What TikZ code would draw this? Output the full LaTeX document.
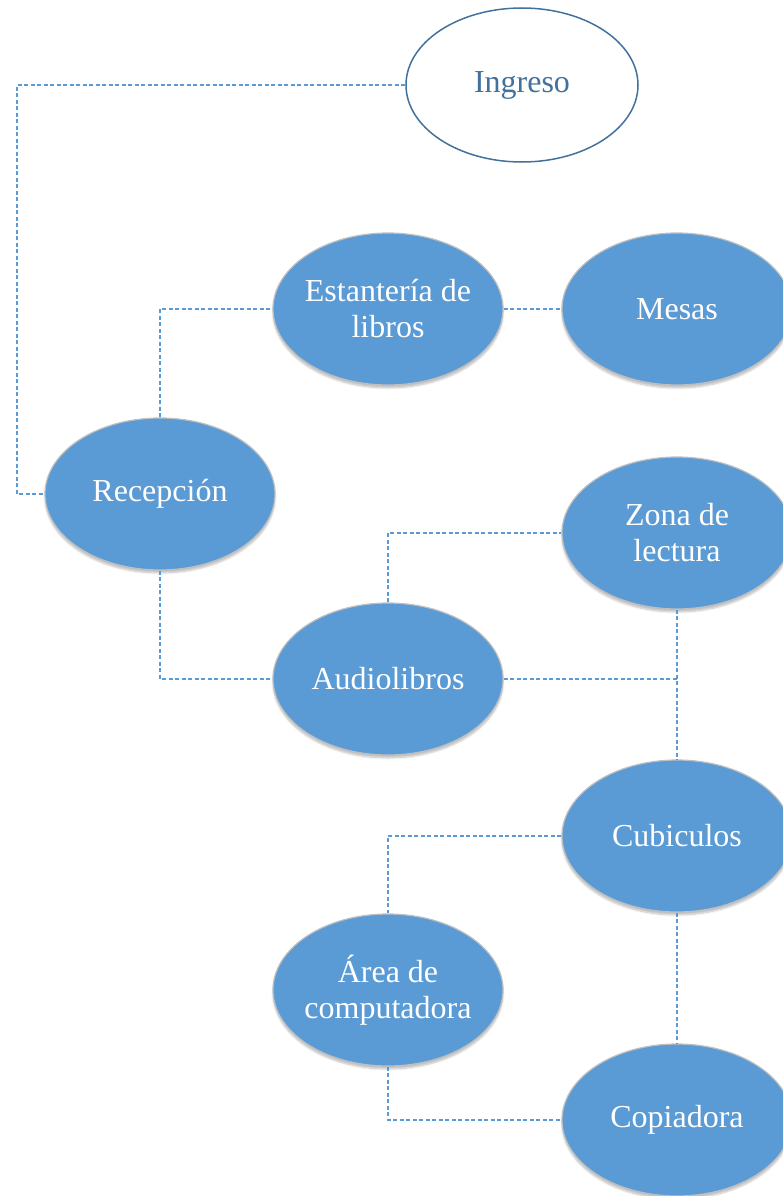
\documentclass[tikz,border=0pt]{standalone}
\usepackage{fontspec}
\setmainfont{Liberation Serif}
\usetikzlibrary{shapes.geometric,shadows.blur}
\definecolor{boxblue}{HTML}{5B9BD5}
\definecolor{edgeblue}{HTML}{41719C}
\definecolor{lineblue}{HTML}{5B9BD5}
\tikzset{
  bubble/.style={ellipse, minimum width=230pt, minimum height=152pt, inner sep=-40pt,
    fill=boxblue, draw=black!25, line width=1.2pt, text=white, align=center,
    font=\fontsize{32}{36}\selectfont,
    blur shadow={shadow xshift=0pt, shadow yshift=-3pt, shadow blur steps=6, shadow opacity=25}},
  whitebubble/.style={ellipse, minimum width=232pt, minimum height=154pt, inner sep=-40pt,
    fill=white, draw=edgeblue, line width=1.5pt, text=edgeblue, align=center,
    font=\fontsize{32}{36}\selectfont},
  link/.style={draw=lineblue, line width=2.4pt, dash pattern=on 4pt off 2.5pt}
}
\begin{document}
\begin{tikzpicture}[x=1pt,y=-1pt]
\useasboundingbox (0,0) rectangle (782,1196);
\node[whitebubble] (ing) at (522,85) {Ingreso};
\node[bubble] (est) at (388,309) {Estantería de\\libros};
\node[bubble] (mes) at (677,309) {Mesas};
\node[bubble] (rec) at (160,494) {Recepción};
\node[bubble] (zon) at (677,533) {Zona de\\lectura};
\node[bubble] (aud) at (388,679) {Audiolibros};
\node[bubble] (cub) at (677,836) {Cubiculos};
\node[bubble] (are) at (388,990) {Área de\\computadora};
\node[bubble] (cop) at (677,1120) {Copiadora};
\coordinate (c1) at (17,85);
\coordinate (c2) at (17,494);
\draw[link] (ing.west) -- (c1) -- (c2) -- (rec.west);
\draw[link] (rec.north) |- (est.west);
\draw[link] (est.east) -- (mes.west);
\draw[link] (rec.south) |- (aud.west);
\draw[link] (aud.north) |- (zon.west);
\draw[link] (aud.east) -| (cub.north);
\draw[link] (zon.south) -- (cub.north);
\draw[link] (cub.west) -| (are.north);
\draw[link] (cub.south) -- (cop.north);
\draw[link] (are.south) |- (cop.west);
\end{tikzpicture}
\end{document}
